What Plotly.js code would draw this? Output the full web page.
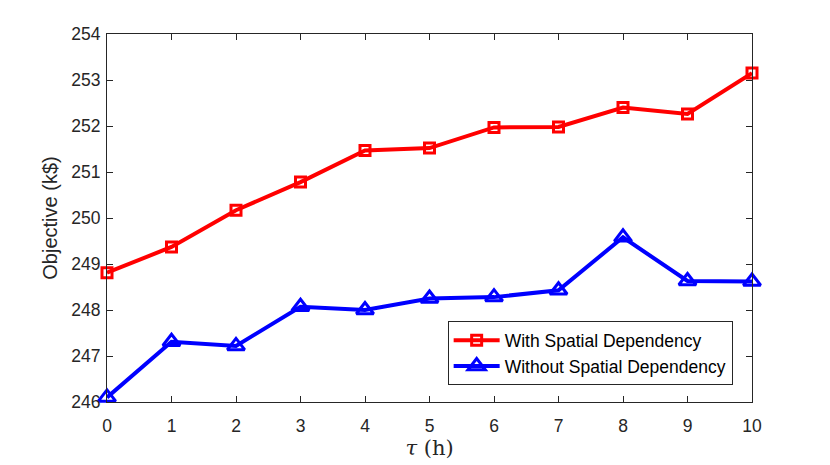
<!DOCTYPE html>
<html>
<head>
<meta charset="utf-8">
<script src="https://cdn.plot.ly/plotly-3.0.1.min.js"></script>
<style>html,body{margin:0;padding:0;background:#fff;}#chart{width:830px;height:465px;}</style>
</head>
<body>
<div id="chart"></div>
<script>
const tau = [0, 1, 2, 3, 4, 5, 6, 7, 8, 9, 10];
const withSpatial = [248.81, 249.37, 250.17, 250.78, 251.47, 251.52, 251.97, 251.98, 252.40, 252.26, 253.15];
const withoutSpatial = [246.10, 247.31, 247.22, 248.07, 248.00, 248.25, 248.28, 248.43, 249.58, 248.63, 248.62];
const yTicks = [246, 247, 248, 249, 250, 251, 252, 253, 254];
const xTicks = [0, 1, 2, 3, 4, 5, 6, 7, 8, 9, 10];

const axisColor = '#262626';
const traces = [
  {
    x: tau, y: withSpatial, name: 'With Spatial Dependency',
    mode: 'lines+markers', type: 'scatter', cliponaxis: false,
    line: {color: '#ff0000', width: 4},
    marker: {symbol: 'square-open', size: 10, color: '#ff0000', line: {width: 3, color: '#ff0000'}}
  },
  {
    x: tau, y: withoutSpatial, name: 'Without Spatial Dependency',
    mode: 'lines+markers', type: 'scatter', cliponaxis: false,
    line: {color: '#0000ff', width: 4},
    marker: {symbol: 'triangle-up-open', size: 15, color: '#0000ff', line: {width: 3, color: '#0000ff'}}
  }
];

const layout = {
  width: 830, height: 465,
  margin: {l: 107, r: 78, t: 34, b: 63},
  paper_bgcolor: '#ffffff', plot_bgcolor: '#ffffff',
  font: {family: 'Liberation Sans, Arial, sans-serif', color: axisColor, size: 17},
  showlegend: true,
  legend: {
    x: 0.97, y: 0.045, xanchor: 'right', yanchor: 'bottom',
    bgcolor: '#ffffff', bordercolor: axisColor, borderwidth: 1,
    font: {size: 17.5, color: '#000000'}, tracegroupgap: 0, itemwidth: 46
  },
  xaxis: {
    range: [0, 10], tickvals: xTicks, ticktext: xTicks.map(String),
    showline: true, linecolor: axisColor, linewidth: 1, mirror: 'ticks',
    ticks: 'inside', ticklen: 6, tickcolor: axisColor, showgrid: false, zeroline: false,
    tickfont: {size: 17.5, color: axisColor}, ticklabelstandoff: 8,
    title: {text: '<i>τ</i> (h)', font: {family: 'DejaVu Serif, Liberation Serif, serif', size: 21, color: axisColor}, standoff: 2}
  },
  yaxis: {
    range: [246, 254], tickvals: yTicks, ticktext: yTicks.map(String),
    showline: true, linecolor: axisColor, linewidth: 1, mirror: 'ticks',
    ticks: 'inside', ticklen: 6, tickcolor: axisColor, showgrid: false, zeroline: false,
    tickfont: {size: 17.5, color: axisColor}, ticklabelstandoff: 2,
    title: {text: 'Objective (k$)', font: {size: 20, color: axisColor}, standoff: 8}
  }
};

Plotly.newPlot('chart', traces, layout, {displayModeBar: false, staticPlot: true});
</script>
</body>
</html>
